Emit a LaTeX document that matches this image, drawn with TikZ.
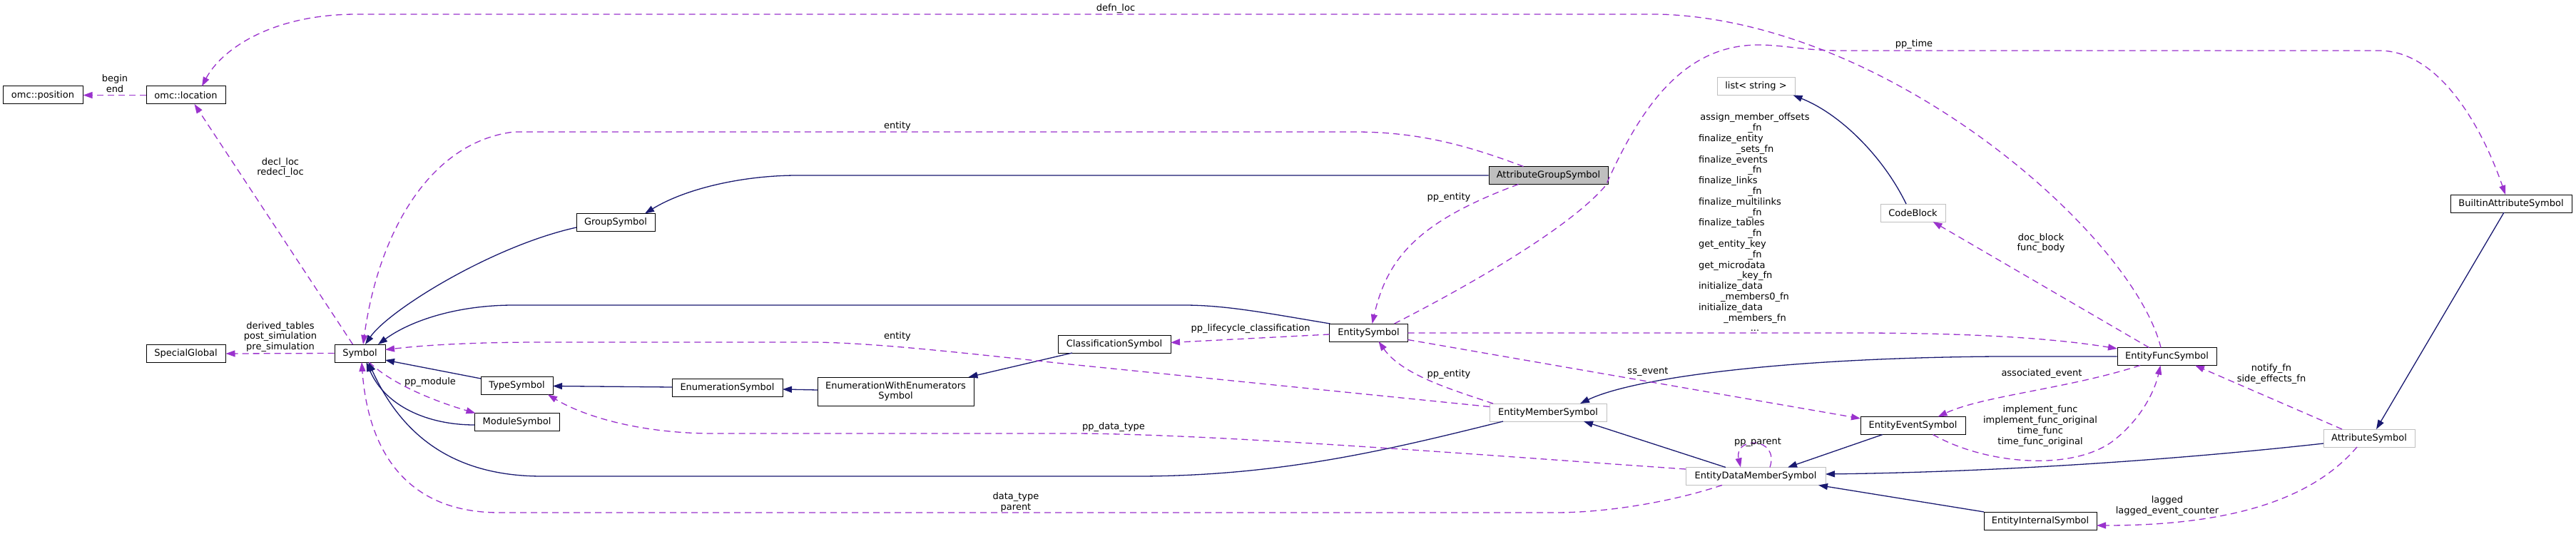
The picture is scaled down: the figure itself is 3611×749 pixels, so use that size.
\documentclass[tikz,border=0pt]{standalone}
\usepackage{fontspec}
\setmainfont{DejaVu Sans}
\usetikzlibrary{arrows.meta,calc}
\definecolor{navyc}{HTML}{191970}
\definecolor{orchidc}{HTML}{9A32CD}
\definecolor{greyc}{HTML}{BFBFBF}
\newcommand{\fnC}[1]{\makebox[158pt][c]{#1}}
\newcommand{\fnL}[1]{\makebox[158pt][l]{#1}}
\begin{document}
\begin{tikzpicture}[x=1pt,y=-1pt,
  every node/.style={font=\fontsize{13}{14.8}\selectfont},
  box/.style={draw=black, line width=1pt, fill=white, minimum height=25pt, inner sep=0pt, anchor=center},
  gbox/.style={box, draw=greyc},
  inh/.style={draw=navyc, line width=1.3pt, -{Triangle[length=13pt,width=9pt]}},
  use/.style={draw=orchidc, line width=1.3pt, dash pattern=on 9pt off 6pt, -{Triangle[length=13pt,width=9pt]}},
  lbl/.style={inner sep=0pt, align=center}]
\useasboundingbox (0,0) rectangle (3611,749);

% nodes
\node[box, minimum width=112pt] (pos) at (60,133.5) {omc::position};
\node[box, minimum width=111pt] (loc) at (260.5,133.5) {omc::location};
\node[box, minimum width=111pt] (sg) at (260.5,496) {SpecialGlobal};
\node[box, minimum width=71pt] (sym) at (504.5,495.5) {Symbol};
\node[box, minimum width=101pt] (type) at (724.5,541) {TypeSymbol};
\node[box, minimum width=119pt] (mod) at (724.5,592) {ModuleSymbol};
\node[box, minimum width=110pt] (group) at (863,312) {GroupSymbol};
\node[box, minimum width=155pt] (enum) at (1019.5,544) {EnumerationSymbol};
\node[box, minimum width=219pt, minimum height=40pt, align=center] (ewe) at (1255.5,549) {EnumerationWithEnumerators\\Symbol};
\node[box, minimum width=158pt] (cls) at (1562,482.5) {ClassificationSymbol};
\node[box, minimum width=110pt] (ent) at (1918.5,466.5) {EntitySymbol};
\node[box, minimum width=167pt, fill=greyc] (ags) at (2170.5,246) {AttributeGroupSymbol};
\node[gbox, minimum width=164pt] (ems) at (2170,578.5) {EntityMemberSymbol};
\node[gbox, minimum width=109pt] (list) at (2461.5,121) {list< string >};
\node[gbox, minimum width=91pt] (code) at (2681.5,298.5) {CodeBlock};
\node[gbox, minimum width=196pt] (edm) at (2461,668) {EntityDataMemberSymbol};
\node[box, minimum width=147pt] (ees) at (2681.5,597) {EntityEventSymbol};
\node[box, minimum width=158pt] (eis) at (2860,730.5) {EntityInternalSymbol};
\node[box, minimum width=139pt] (efs) at (3037.5,500) {EntityFuncSymbol};
\node[box, minimum width=170pt] (bas) at (3520,285.5) {BuiltinAttributeSymbol};
\node[gbox, minimum width=128pt] (as) at (3321,614.5) {AttributeSymbol};

% inheritance edges
\draw[inh] ($(group)+(-55,7)$) .. controls (690,345) and (545,435) .. ($(sym)+(7.5,-12.5)$);
\draw[inh] (ags.west) -- (1118,246) .. controls (1040,246) and (960,265) .. ($(group)+(41,-12.5)$);
\draw[inh] ($(ent)+(-54,-12.5)$) .. controls (1780,440) and (1720,428) .. (1660,428) -- (720,428) .. controls (640,428) and (575,450) .. ($(sym)+(25.5,-12.5)$);
\draw[inh] ($(type)+(-50.5,-10)$) -- ($(sym)+(35.5,9.5)$);
\draw[inh] ($(enum)+(-77.5,-1)$) -- ($(type)+(50.5,0.5)$);
\draw[inh] ($(ewe)+(-109.5,-2)$) -- ($(enum)+(77.5,2)$);
\draw[inh] ($(cls)+(-59,12.5)$) -- ($(ewe)+(102,-20)$);
\draw[inh] ($(mod)+(-59.5,4)$) .. controls (600,596) and (540,570) .. ($(sym)+(9,12.5)$);
\draw[inh] ($(ems)+(-63,12.5)$) .. controls (1950,630) and (1800,667) .. (1600,668) -- (760,668) .. controls (640,668) and (565,615) .. ($(sym)+(12,12.5)$);
\draw[inh] ($(code)+(-9.5,-12.5)$) .. controls (2640,220) and (2580,160) .. ($(list)+(52,12.5)$);
\draw[inh] (efs.west) -- (2800,500) .. controls (2500,502) and (2290,530) .. ($(ems)+(45,-12.5)$);
\draw[inh] ($(edm)+(-42,-12.5)$) -- ($(ems)+(50,12.5)$);
\draw[inh] ($(ees)+(-42.5,12.5)$) -- ($(edm)+(45,-12.5)$);
\draw[inh] ($(as)+(-64,7.5)$) .. controls (3050,645) and (2800,662) .. ($(edm)+(98,-3)$);
\draw[inh] ($(eis)+(-79,-12.5)$) -- ($(edm)+(88,12.5)$);
\draw[inh] ($(bas)+(-10,12.5)$) -- ($(as)+(10,-12.5)$);

% usage edges
\draw[use] (loc.west) -- (pos.east);
\draw[use] ($(sym)+(-10,-12.5)$) -- ($(loc)+(12,12.5)$);
\draw[use] ($(efs)+(-8.5,-12.5)$) .. controls (2990,330) and (2650,30) .. (2327,20) -- (500,20) .. controls (380,20) and (310,70) .. ($(loc)+(22.5,-12.5)$);
\draw[use] (sym.west) -- (sg.east);
\draw[use] ($(sym)+(13,12.5)$) .. controls (545,535) and (600,560) .. ($(mod)+(-58,-12.5)$);
\draw[use] ($(ags)+(-35,-12.5)$) .. controls (2060,205) and (1990,185) .. (1900,185) -- (720,185) .. controls (600,200) and (530,330) .. ($(sym)+(4.5,-12.5)$);
\draw[use] ($(ags)+(-42,12.5)$) .. controls (1990,310) and (1945,360) .. ($(ent)+(5,-12.5)$);
\draw[use] ($(ems)+(-82,-8)$) -- (1500,511) .. controls (1350,495) and (1220,480) .. (1134,480) -- (760,480) .. controls (640,480) and (580,486) .. ($(sym)+(35.5,-5)$);
\draw[use] ($(ent)+(-55,2.5)$) -- ($(cls)+(79,-2)$);
\draw[use] ($(ems)+(-77,-12.5)$) .. controls (2030,545) and (1965,525) .. ($(ent)+(14,12.5)$);
\draw[use] ($(ent)+(55,0.5)$) -- (2600,467) .. controls (2800,467) and (2900,478) .. ($(efs)+(-69.5,-11)$);
\draw[use] ($(ent)+(36,-12.5)$) .. controls (2060,400) and (2200,320) .. (2251,260) .. controls (2300,150) and (2360,63) .. (2465,63) .. controls (2500,63) and (2530,71) .. (2580,71) -- (3335,71) .. controls (3420,71) and (3480,180) .. ($(bas)+(-8,-12.5)$);
\draw[use] ($(ent)+(55,10)$) -- ($(ees)+(-73.5,-10)$);
\draw[use] ($(efs)+(-25,-12.5)$) -- ($(code)+(28,12.5)$);
\draw[use] ($(efs)+(-37.5,12.5)$) .. controls (2900,545) and (2780,555) .. ($(ees)+(35,-12.5)$);
\draw[use] ($(ees)+(28,12.5)$) .. controls (2780,650) and (2900,662) .. (2960,620) .. controls (3000,590) and (3020,550) .. ($(efs)+(-9,12.5)$);
\draw[use] ($(as)+(-38,-12.5)$) -- ($(efs)+(39.5,12.5)$);
\draw[use] ($(as)+(-17,12.5)$) .. controls (3250,690) and (3150,737) .. ($(eis)+(79,6.5)$);
\draw[use] ($(edm)+(-98,-10)$) .. controls (2100,640) and (1700,608) .. (1500,608) -- (1000,608) .. controls (900,608) and (820,585) .. ($(type)+(43.5,12.5)$);
\draw[use] ($(edm)+(-47,12.5)$) .. controls (2340,705) and (2250,719) .. (2180,719) -- (700,719) .. controls (560,719) and (515,620) .. ($(sym)+(2.5,12.5)$);
\draw[use] ($(edm)+(20,-12.5)$) .. controls (2495,612) and (2430,612) .. ($(edm)+(-21,-12.5)$);

% labels
\node[lbl] (lbeginend) at (161,117) {begin\\end};
\node[lbl] (ldecl) at (393,235) {decl\_loc\\redecl\_loc};
\node[lbl] (ldefn) at (1564,12) {defn\_loc};
\node[lbl] (lsg) at (393,472.5) {derived\_tables\\post\_simulation\\pre\_simulation};
\node[lbl] (lmod) at (603,536) {pp\_module};
\node[lbl] (lentA) at (1258,177) {entity};
\node[lbl] (lppentA) at (2031,277) {pp\_entity};
\node[lbl] (lentB) at (1258,472) {entity};
\node[lbl] (llife) at (1753,461) {pp\_lifecycle\_classification};
\node[lbl] (lppentB) at (2031,525) {pp\_entity};
\node[lbl] (lfns) at (2460,312) {\fnC{assign\_member\_offsets}\\
\fnC{\_fn}\\
\fnL{finalize\_entity}\\
\fnC{\_sets\_fn}\\
\fnL{finalize\_events}\\
\fnC{\_fn}\\
\fnL{finalize\_links}\\
\fnC{\_fn}\\
\fnL{finalize\_multilinks}\\
\fnC{\_fn}\\
\fnL{finalize\_tables}\\
\fnC{\_fn}\\
\fnL{get\_entity\_key}\\
\fnC{\_fn}\\
\fnL{get\_microdata}\\
\fnC{\_key\_fn}\\
\fnL{initialize\_data}\\
\fnC{\_members0\_fn}\\
\fnL{initialize\_data}\\
\fnC{\_members\_fn}\\
\fnC{...}};
\node[lbl] (ltime) at (2683,62) {pp\_time};
\node[lbl] (lss) at (2310,521) {ss\_event};
\node[lbl] (ldoc) at (2861,341) {doc\_block\\func\_body};
\node[lbl] (lassoc) at (2862,524) {associated\_event};
\node[lbl] (limpl) at (2860,597.5) {implement\_func\\implement\_func\_original\\time\_func\\time\_func\_original};
\node[lbl] (lnotify) at (3184,524.5) {notify\_fn\\side\_effects\_fn};
\node[lbl] (llag) at (3038,709.5) {lagged\\lagged\_event\_counter};
\node[lbl] (lpdt) at (1561,599) {pp\_data\_type};
\node[lbl] (ldt) at (1424,704.5) {data\_type\\parent};
\node[lbl] (lparent) at (2464,620) {pp\_parent};
\end{tikzpicture}
\end{document}
